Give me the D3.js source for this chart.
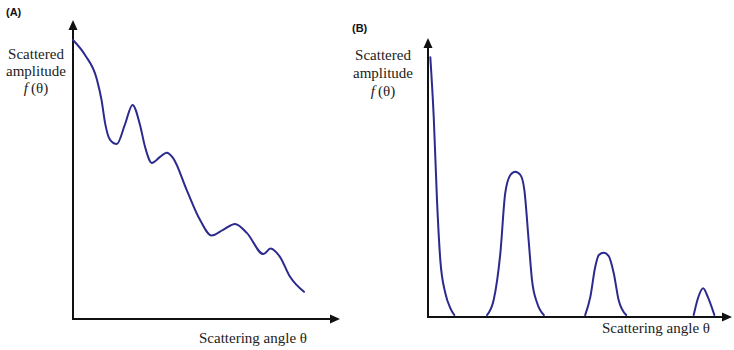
<!DOCTYPE html>
<html>
<head>
<meta charset="utf-8">
<script src="https://cdn.jsdelivr.net/npm/d3@7"></script>
<style>
  html, body { margin: 0; padding: 0; background: #fff; }
  svg { display: block; }
  .lbl { font-family: "Liberation Serif", "DejaVu Serif", "Times New Roman", serif; font-size: 15px; fill: #222; }
  .tag { font-family: "Liberation Sans", Arial, sans-serif; font-size: 11px; font-weight: bold; fill: #111; }
</style>
</head>
<body>
<svg id="chart" width="734" height="350"></svg>
<script>
// Panel A: smooth, decaying amplitude with weak oscillations
const angleA = [0, 4.5, 8.9, 10.7, 12.0, 13.9, 16.4, 19.4, 22.3, 25.1, 27.0, 29.5, 32.6, 35.1, 37.5,
                42.6, 47.6, 51.9, 56.2, 60.7, 65.1, 71.3, 74.0, 77.5, 81.3, 86.5];
const ampA   = [93.3, 88.3, 80.3, 73.2, 65.6, 59.9, 58.5, 64.9, 71.6, 64.9, 57.5, 52.2, 54.2, 55.6, 53.8,
                43.1, 33.1, 27.9, 29.8, 31.8, 28.8, 21.7, 23.6, 20.8, 14.1, 9.1];

// Panel B: sharp, separated diffraction peaks
const angleB1 = [0.76, 1.88, 2.96, 4.05, 5.69, 7.34, 8.65];
const ampB1   = [93.1, 71.8, 41.9, 20.4, 8.6, 3.2, 0.7];
const angleB2 = [19.4, 21.6, 23.8, 25.4, 27.1, 28.7, 30.4, 31.7, 33.1, 34.2, 35.9, 38.1];
const ampB2   = [0.7, 6.1, 22.9, 44.4, 50.9, 52.1, 50.9, 45.5, 27.6, 13.3, 5.0, 0.7];
const angleB3 = [51.7, 53.4, 55.0, 56.2, 57.8, 59.4, 61.1, 62.7, 65.2];
const ampB3   = [0.7, 7.2, 17.9, 22.2, 23.0, 21.9, 15.7, 6.1, 0.7];
const angleB4 = [87.4, 88.8, 90.5, 92.0, 94.2];
const ampB4   = [0.7, 6.7, 10.3, 7.3, 0.7];

const panelTags = ["(A)", "(B)"];
const yLabelLines = ["Scattered", "amplitude"];
const xLabel = "Scattering angle θ";

const curveColor = "#2b2a8f";
const svg = d3.select("#chart");

const panels = [
  { tag: panelTags[0], tagX: 6, tagY: 16,
    x: d3.scaleLinear().domain([0, 100]).range([73, 340]),
    y: d3.scaleLinear().domain([0, 100]).range([319, 20]),
    series: [[angleA, ampA]],
    ylx: 36, yly: [59, 76, 93],
    xlx: 253, xly: 343 },
  { tag: panelTags[1], tagX: 352, tagY: 32,
    x: d3.scaleLinear().domain([0, 100]).range([428, 732]),
    y: d3.scaleLinear().domain([0, 100]).range([317, 38]),
    series: [[angleB1, ampB1], [angleB2, ampB2], [angleB3, ampB3], [angleB4, ampB4]],
    ylx: 383, yly: [60, 78, 96],
    xlx: 656, xly: 333 }
];

panels.forEach(p => {
  const g = svg.append("g");
  const [x0, x1] = p.x.range();
  const [y0, y1] = p.y.range();

  // axes with arrowheads
  g.append("line").attr("x1", x0).attr("x2", x0).attr("y1", y0 + 1).attr("y2", y1 + 6)
    .attr("stroke", "#111").attr("stroke-width", 2);
  g.append("line").attr("x1", x0 - 1).attr("x2", x1 - 6).attr("y1", y0).attr("y2", y0)
    .attr("stroke", "#111").attr("stroke-width", 2);
  g.append("path").attr("d", `M${x0},${y1} L${x0 - 4.5},${y1 + 10} L${x0 + 4.5},${y1 + 10} Z`).attr("fill", "#111");
  g.append("path").attr("d", `M${x1},${y0} L${x1 - 10},${y0 - 4.5} L${x1 - 10},${y0 + 4.5} Z`).attr("fill", "#111");

  // curves
  const line = d3.line()
    .x(d => p.x(d[0]))
    .y(d => p.y(d[1]))
    .curve(d3.curveMonotoneX);
  p.series.forEach(([xs, ys]) => {
    g.append("path")
      .datum(xs.map((v, i) => [v, ys[i]]))
      .attr("d", line)
      .attr("fill", "none")
      .attr("stroke", curveColor)
      .attr("stroke-width", 2)
      .attr("stroke-linecap", "round");
  });

  // labels
  g.append("text").attr("class", "tag").attr("x", p.tagX).attr("y", p.tagY).text(p.tag);
  yLabelLines.forEach((t, i) => {
    g.append("text").attr("class", "lbl").attr("x", p.ylx).attr("y", p.yly[i])
      .attr("text-anchor", "middle").text(t);
  });
  const f = g.append("text").attr("class", "lbl").attr("x", p.ylx).attr("y", p.yly[2])
    .attr("text-anchor", "middle");
  f.append("tspan").attr("font-style", "italic").text("f");
  f.append("tspan").text("\u2009(θ)");
  g.append("text").attr("class", "lbl").attr("x", p.xlx).attr("y", p.xly)
    .attr("text-anchor", "middle").text(xLabel);
});
</script>
</body>
</html>
